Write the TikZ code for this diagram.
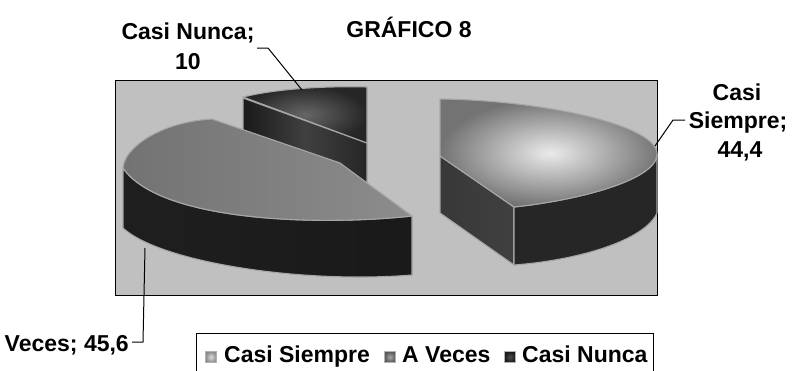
\documentclass[tikz,border=0pt]{standalone}
\usepackage{fontspec}
\setmainfont{Liberation Sans}
\definecolor{plotgray}{HTML}{C0C0C0}
\definecolor{rimgray}{HTML}{A6A6A6}
\begin{document}
\begin{tikzpicture}[x=1pt,y=-1pt,
  lbl/.style={font=\fontsize{23}{28}\selectfont\bfseries, inner sep=0pt, anchor=base},
  rim/.style={draw=rimgray, line width=1.1pt, line join=round},
  leader/.style={draw=black, line width=1pt},
  legsq/.style={draw=gray!60, line width=0.6pt, minimum size=11pt, inner sep=0pt}]
\useasboundingbox (0,0) rectangle (793,370);
\fill[white] (0,0) rectangle (793,370);
% plot area
\draw[fill=plotgray, line width=1pt] (115,80) rectangle (657,295);
% ---- Casi Nunca piece (back) ----
\shade[left color=black!90, right color=black!85, middle color=black!75, rim]
  (243,98) -- (367,143) -- (367,184) -- (243,150) -- cycle;
\shade[inner color=black!60, outer color=black!85, rim]
  (243,97) .. controls (280,88) and (330,86) .. (367,87) -- (367,143) -- cycle;
% ---- A Veces piece ----
\shade[left color=black!88, middle color=black!62, right color=black!90, rim]
  (123,168) .. controls (160,222) and (320,226) .. (412,216) -- (412,275)
  .. controls (300,284) and (160,262) .. (123,228) -- cycle;
\shade[left color=black!55, middle color=black!30, right color=black!45, rim]
  (123,168) .. controls (124,148) and (160,122) .. (212,119) -- (340,163) -- (412,216)
  .. controls (320,226) and (160,222) .. (123,168) -- cycle;
% ---- Casi Siempre piece ----
\shade[left color=black!78, middle color=black!50, right color=black!75, rim]
  (440,156) -- (514,207) -- (514,265) -- (440,213) -- cycle;
\shade[left color=black!85, middle color=black!52, right color=black!85, rim]
  (514,207) .. controls (580,200) and (655,180) .. (657,155) -- (657,213)
  .. controls (645,240) and (580,260) .. (514,265) -- cycle;
\shade[inner color=black!8, outer color=black!55, rim]
  (440,99) .. controls (540,100) and (660,125) .. (657,155)
  .. controls (655,180) and (580,200) .. (514,207) -- (440,156) -- cycle;
% ---- title ----
\node[lbl] (title) at (409,37) {GRÁFICO 8};
% ---- data labels ----
\node[lbl] (cn1) at (188,39) {Casi Nunca;};
\node[lbl] (cn2) at (188,69) {10};
\node[lbl] (cs1) at (737,100) {Casi};
\node[lbl] (cs2) at (738,128) {Siempre;};
\node[lbl] (cs3) at (740,157) {44,4};
\node[lbl, anchor=base east] (av) at (129,351) {A Veces; 45,6};
% leaders
\coordinate (cnA) at (257,48);
\coordinate (cnB) at (268,48);
\coordinate (cnT) at (302,90);
\draw[leader] (cnA) -- (cnB) -- (cnT);
\coordinate (csA) at (685,120);
\coordinate (csB) at (673,120);
\coordinate (csT) at (655,146);
\draw[leader] (csA) -- (csB) -- (csT);
\coordinate (avA) at (132,342);
\coordinate (avB) at (143,342);
\coordinate (avT) at (145,248);
\draw[leader] (avA) -- (avB) -- (avT);
% ---- legend ----
\draw[fill=white, line width=1pt] (196,333) rectangle (653,385);
\node[legsq, inner color=black!15, outer color=black!45, shade] (sq1) at (211,357) {};
\node[lbl, anchor=base west] (l1) at (224,362) {Casi Siempre};
\node[legsq, inner color=black!35, outer color=black!65, shade] (sq2) at (390,357) {};
\node[lbl, anchor=base west] (l2) at (402,362) {A Veces};
\node[legsq, inner color=black!70, outer color=black!90, shade] (sq3) at (510,357) {};
\node[lbl, anchor=base west] (l3) at (522,362) {Casi Nunca};
\end{tikzpicture}
\end{document}
